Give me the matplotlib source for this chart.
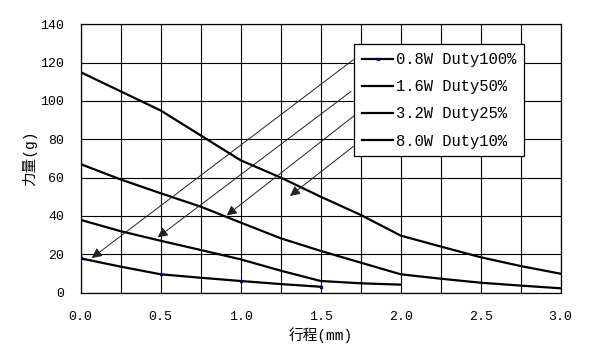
import numpy as np
import matplotlib
matplotlib.use('Agg')
import matplotlib.pyplot as plt

# ============================================================
# DATA
# ============================================================

stroke = [0.0, 0.25, 0.5, 0.75, 1.0, 1.25, 1.5, 1.75, 2.0, 2.25, 2.5, 2.75, 3.0]

force_08w = [17.8, 13.5, 9.5, 7.7, 6.0, 4.4, 3.0]
force_16w = [37.9, 32.0, 27.0, 22.2, 17.3, 11.4, 6.0, 4.8, 4.1]
force_32w = [67.0, 59.0, 51.8, 44.8, 36.5, 28.3, 21.7, 15.6, 9.5, 7.2, 5.1, 3.6, 2.2]
force_80w = [115.0, 105.0, 95.0, 82.0, 69.0, 60.0, 50.0, 40.5, 29.7, 24.0, 18.4, 13.8, 9.8]

labels = ['0.8W Duty100%', '1.6W Duty50%', '3.2W Duty25%', '8.0W Duty10%']

# arrow (tail, head) in data units, legend entry -> curve
arrow_tails = [(1.704, 121.5), (1.690, 105.0), (1.708, 92.2), (1.708, 76.5)]
arrow_heads = [(0.069, 18.0), (0.481, 28.8), (0.912, 40.2), (1.308, 50.4)]

# ============================================================
# PLOT SETTINGS
# ============================================================

FONT = ['Liberation Mono', 'Noto Sans CJK SC']
LINEWIDTH = 1.6

plt.rcParams['font.family'] = FONT

fig = plt.figure(figsize=(6.01, 3.54), dpi=100)
ax = fig.add_axes([80.7 / 601, (354 - 292.5) / 354, 480 / 601, 268.2 / 354])

series = [force_08w, force_16w, force_32w, force_80w]

for i, (vals, lab) in enumerate(zip(series, labels)):
    if i == 0:
        # only the first series shows its (navy) data markers
        ax.plot(stroke[:len(vals)], vals, color='black', linewidth=LINEWIDTH,
                marker='s', markersize=2, markevery=2,
                markerfacecolor='#000080', markeredgecolor='#000080', label=lab)
    else:
        ax.plot(stroke[:len(vals)], vals, color='black', linewidth=LINEWIDTH,
                label=lab)

for tail, head in zip(arrow_tails, arrow_heads):
    ax.annotate('', xy=head, xytext=tail,
                arrowprops=dict(arrowstyle='-|>', color='#222222', lw=0.7,
                                mutation_scale=15, shrinkA=0, shrinkB=0))

ax.set_xlim(0, 3.0)
ax.set_ylim(0, 140)
ax.set_xticks(np.arange(0, 3.01, 0.5))
ax.set_xticks(np.arange(0, 3.01, 0.25), minor=True)
ax.set_yticks(np.arange(0, 141, 20))
ax.set_xticklabels(['%.1f' % v for v in np.arange(0, 3.01, 0.5)])
ax.grid(True, which='both', color='black', linewidth=0.8)
ax.set_axisbelow(True)
ax.tick_params(which='both', length=0, labelsize=9.5)
ax.tick_params(axis='x', pad=13)
ax.tick_params(axis='y', pad=12)
for s in ax.spines.values():
    s.set_linewidth(0.9)

ax.set_xlabel('行程(mm)', fontsize=10.5, labelpad=3)
ax.set_ylabel('力量(g)', fontsize=10.5, labelpad=2)

leg = ax.legend(loc='upper left', bbox_to_anchor=(0.570, 0.925),
                fontsize=11.2, frameon=True, fancybox=False,
                handlelength=2.0, handletextpad=0.2, labelspacing=0.78,
                borderpad=0.5, borderaxespad=0)
leg.get_frame().set_edgecolor('black')
leg.get_frame().set_linewidth(0.9)
leg.get_frame().set_alpha(1)

plt.savefig('out.png', dpi=100)
